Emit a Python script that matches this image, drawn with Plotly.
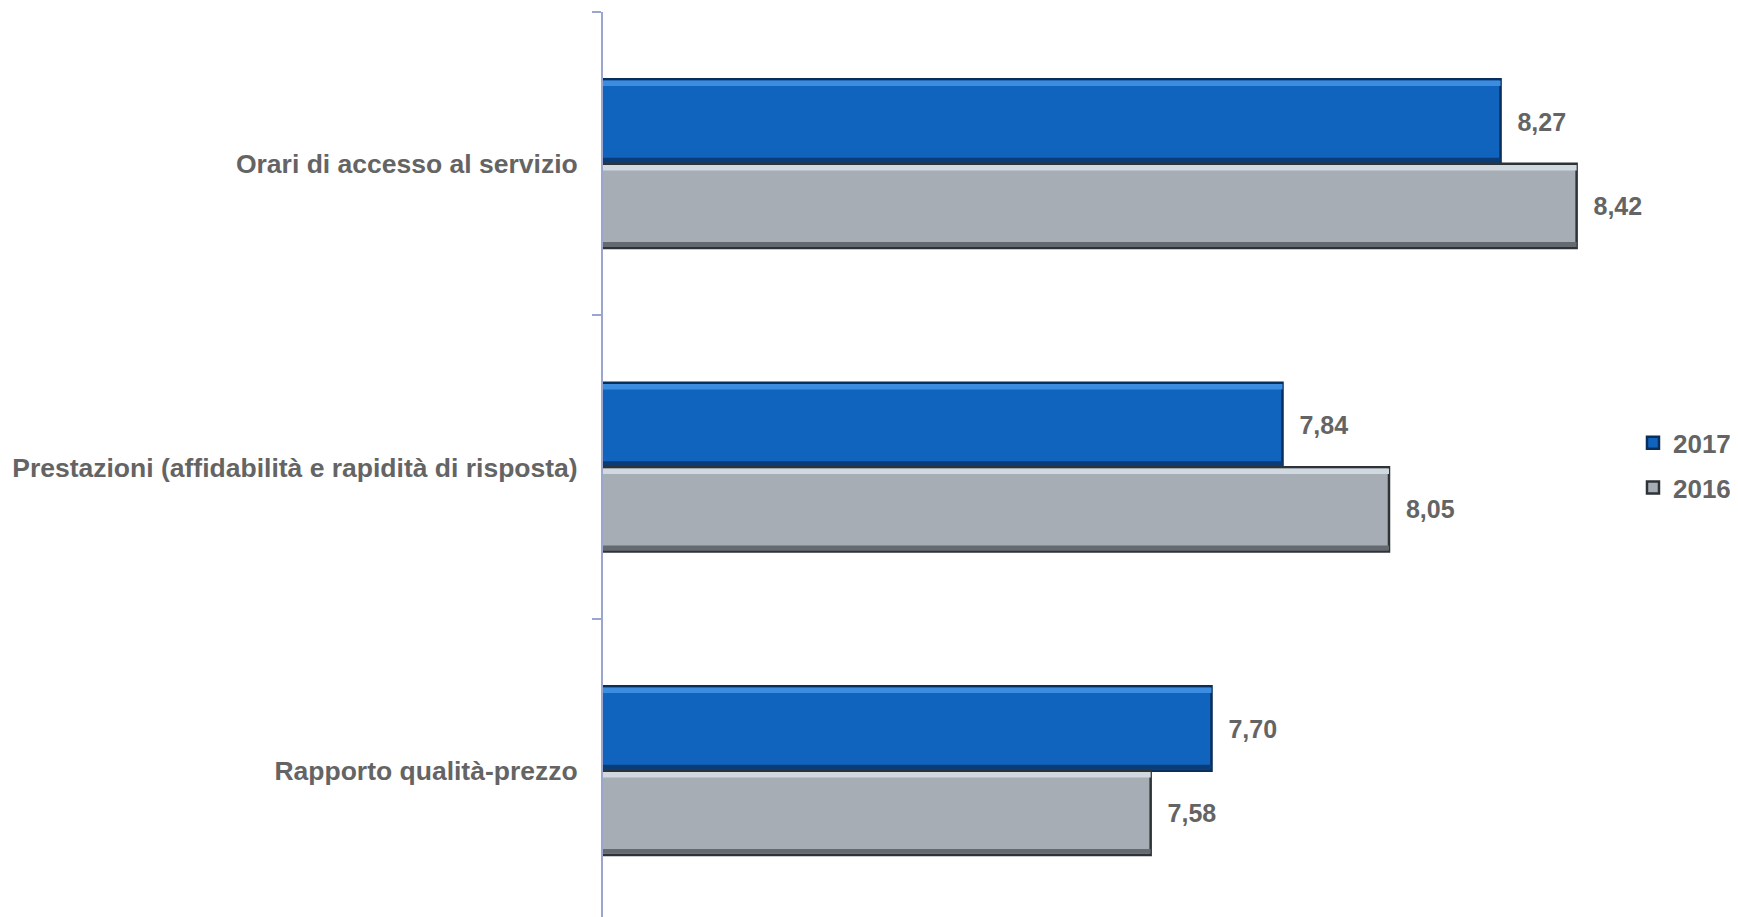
import plotly.graph_objects as go

categories = ["Orari di accesso al servizio",
              "Prestazioni (affidabilità e rapidità di risposta)",
              "Rapporto qualità-prezzo"]
values_2017 = [8.27, 7.84, 7.70]
values_2016 = [8.42, 8.05, 7.58]
series_names = ["2017", "2016"]

FONT = "Liberation Sans, Arial, sans-serif"
GREY_TXT = "#646464"

BAR_W = 0.278  # bar thickness in category units

styles = {
    "2017": dict(face="#1064BE", edge="#082E5C", hi="#3C8CE0", sh="#0A3C78", offset=-BAR_W),
    "2016": dict(face="#A6ADB5", edge="#2E3338", hi="#D0D8E0", sh="#646A70", offset=0.0),
}

fig = go.Figure()
for name, vals, grp in [(series_names[0], values_2017, "a"), (series_names[1], values_2016, "b")]:
    st = styles[name]
    n = len(categories)
    # main bar
    fig.add_trace(go.Bar(
        y=categories, x=vals, name=name, orientation="h",
        offset=[st["offset"]] * n, width=[BAR_W] * n,
        marker=dict(color=st["face"], line=dict(color=st["edge"], width=2.5)),
        texttemplate="\u00a0\u00a0%{x:.2f}", textposition="outside", cliponaxis=False,
        textfont=dict(family=FONT, size=25, color=GREY_TXT, weight="bold"),
        legendgroup=grp, hoverinfo="skip",
    ))
    # top highlight strip (bevel)
    fig.add_trace(go.Bar(
        y=categories, x=vals, orientation="h", showlegend=False,
        offset=[st["offset"] + 0.004] * n, width=[0.018] * n,
        marker=dict(color=st["hi"], line=dict(width=0)),
        legendgroup=grp, hoverinfo="skip",
    ))
    # bottom shadow strip (bevel)
    fig.add_trace(go.Bar(
        y=categories, x=vals, orientation="h", showlegend=False,
        offset=[st["offset"] + BAR_W - 0.02] * n, width=[0.016] * n,
        marker=dict(color=st["sh"], line=dict(width=0)),
        legendgroup=grp, hoverinfo="skip",
    ))

fig.update_layout(
    width=1730, height=909,
    margin=dict(l=595, r=135, t=4, b=0),
    plot_bgcolor="white", paper_bgcolor="white",
    barmode="overlay",
    separators=",.",
    font=dict(family=FONT, color=GREY_TXT),
    showlegend=True,
    legend=dict(xref="container", yref="container", x=0.9393, xanchor="left",
                y=0.497, yanchor="middle",
                font=dict(family=FONT, size=26, color=GREY_TXT, weight="bold"),
                traceorder="grouped", tracegroupgap=8,
                itemwidth=30, bgcolor="rgba(0,0,0,0)"),
    xaxis=dict(range=[6.5, 8.472], visible=False, showgrid=False, zeroline=False),
    yaxis=dict(range=[2.482, -0.5], showgrid=False, zeroline=False,
               showline=True, linecolor="#9AA6D0", linewidth=2,
               ticks="outside", ticklen=9, tickcolor="#9AA6D0", tickwidth=2,
               tickson="boundaries", ticklabelstandoff=18,
               tickfont=dict(family=FONT, size=26.5, color=GREY_TXT, weight="bold")),
)

fig.write_html("out.html")
